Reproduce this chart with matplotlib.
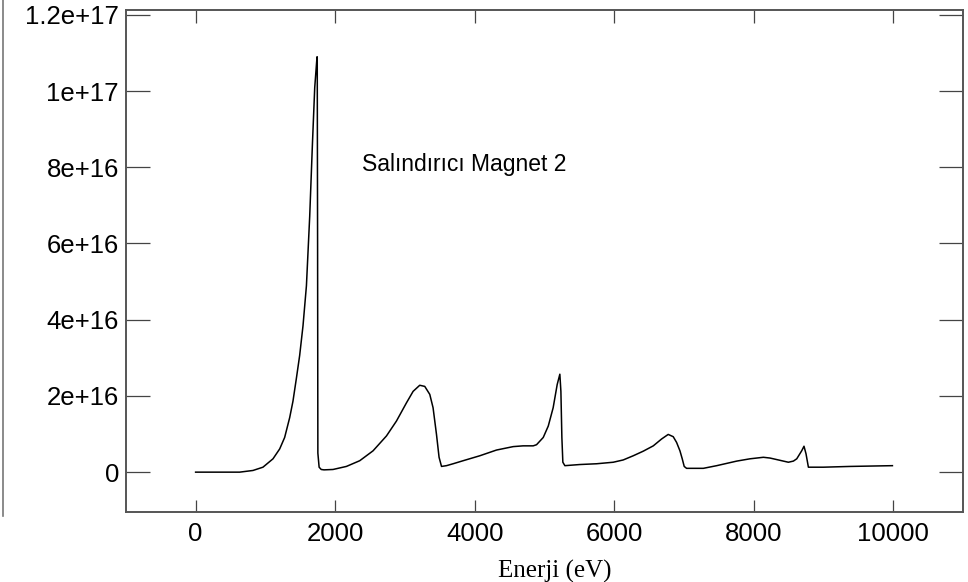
import matplotlib
matplotlib.use("Agg")
import matplotlib.pyplot as plt
from matplotlib.lines import Line2D
from matplotlib.ticker import FuncFormatter

# Spectrum traced point by point: energy (eV) and intensity
energy = [0, 631, 822, 965, 1109, 1205, 1276, 1348, 1395, 1444, 1491, 1539,
          1588, 1635, 1674, 1707, 1740, 1743, 1748, 1752, 1770, 1800, 1840,
          1969, 2161, 2352, 2543, 2735, 2878, 3022, 3117, 3212, 3284, 3356,
          3403, 3452, 3489, 3524, 3595, 3690, 3834, 4073, 4312, 4551, 4693,
          4838, 4886, 4982, 5054, 5124, 5182, 5220, 5235, 5249, 5263, 5292,
          5507, 5746, 5985, 6128, 6272, 6415, 6559, 6678, 6773, 6845, 6893,
          6941, 6974, 7002, 7036, 7276, 7468, 7755, 7945, 8137, 8232, 8328,
          8495, 8567, 8615, 8686, 8719, 8748, 8782, 8997, 9379, 9986]
intensity = [0, 0, 0.044e16, 0.13e16, 0.35e16, 0.61e16, 0.91e16, 1.43e16,
             1.86e16, 2.46e16, 3.06e16, 3.84e16, 4.89e16, 6.71e16, 8.61e16,
             10.09e16, 10.9e16, 10.9e16, 6.0e16, 0.5e16, 0.13e16, 0.07e16,
             0.06e16, 0.07e16, 0.15e16, 0.30e16, 0.56e16, 0.95e16, 1.34e16,
             1.82e16, 2.12e16, 2.28e16, 2.25e16, 2.04e16, 1.69e16, 0.99e16,
             0.39e16, 0.15e16, 0.17e16, 0.22e16, 0.30e16, 0.43e16, 0.58e16,
             0.67e16, 0.69e16, 0.69e16, 0.72e16, 0.91e16, 1.21e16, 1.69e16,
             2.30e16, 2.57e16, 2.12e16, 0.91e16, 0.26e16, 0.17e16, 0.20e16,
             0.22e16, 0.26e16, 0.32e16, 0.43e16, 0.55e16, 0.69e16, 0.87e16,
             0.99e16, 0.93e16, 0.78e16, 0.56e16, 0.35e16, 0.15e16, 0.10e16,
             0.10e16, 0.17e16, 0.29e16, 0.35e16, 0.39e16, 0.37e16, 0.33e16,
             0.26e16, 0.29e16, 0.35e16, 0.56e16, 0.68e16, 0.48e16, 0.13e16,
             0.13e16, 0.15e16, 0.17e16]

x_ticks = [0, 2000, 4000, 6000, 8000, 10000]
y_ticks = [0, 2e16, 4e16, 6e16, 8e16, 10e16, 12e16]

label_text = "Salındırıcı Magnet 2"
x_label = "Enerji (eV)"

plt.rcParams["font.family"] = ["Liberation Sans", "DejaVu Sans"]

fig = plt.figure(figsize=(9.68, 5.82), dpi=100)
ax = fig.add_axes([0.130, 0.120, 0.865, 0.863])

ax.plot(energy, intensity, color="black", linewidth=1.1)

ax.set_xlim(-1000, 11000)
ax.set_ylim(-1.05e16, 1.213e17)
ax.set_xticks(x_ticks)
ax.set_yticks(y_ticks)
fmt = FuncFormatter(lambda v, pos: "%g" % v)
ax.xaxis.set_major_formatter(fmt)
ax.yaxis.set_major_formatter(fmt)

ax.tick_params(axis="both", which="major", direction="in", labelsize=18.5,
               color="#444444", width=0.9, top=True, right=True)
ax.tick_params(axis="y", length=17, pad=5)
ax.tick_params(axis="x", length=9, pad=7)
for s in ax.spines.values():
    s.set_color("#555555")
    s.set_linewidth(1.4)

ax.text(2380, 7.9e16, label_text, fontsize=16.5, ha="left", va="baseline")

ax.set_xlabel(x_label, family=["Liberation Serif", "DejaVu Serif"],
              fontsize=18)
ax.xaxis.set_label_coords(0.5125, -0.095)

# thin border line at the far left edge
fig.add_artist(Line2D([0.003, 0.003], [1.0, 1 - 516 / 582],
                      transform=fig.transFigure, color="#777777",
                      linewidth=1.2))

fig.savefig("out.png", dpi=100)
